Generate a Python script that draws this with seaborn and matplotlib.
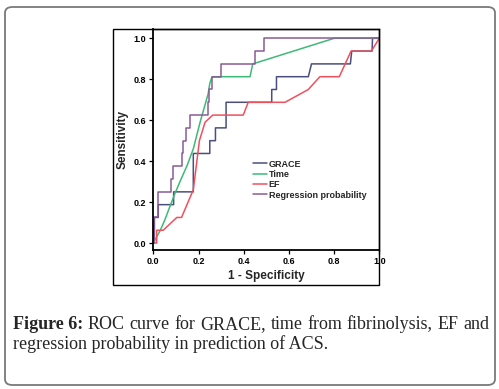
import matplotlib
matplotlib.use("Agg")
import matplotlib.pyplot as plt
import seaborn as sns
import pandas as pd
from matplotlib.patches import Rectangle, FancyBboxPatch

# ROC curve points (1 - specificity, sensitivity)
grace_fpr = [0.0, 0.005, 0.005, 0.022, 0.022, 0.09, 0.09, 0.177, 0.177, 0.25, 0.25, 0.275, 0.275,
             0.322, 0.322, 0.524, 0.524, 0.545, 0.545, 0.686, 0.70, 0.872, 0.878, 0.968, 0.97, 1.0]
grace_tpr = [0.0, 0.0, 0.125, 0.125, 0.1875, 0.1875, 0.25, 0.25, 0.4375, 0.4375, 0.5, 0.5, 0.5625,
             0.5625, 0.6875, 0.6875, 0.75, 0.75, 0.8125, 0.8125, 0.875, 0.875, 0.9375, 0.9375, 1.0, 1.0]

time_fpr = [0.0, 0.01, 0.03, 0.05, 0.074, 0.095, 0.118, 0.15, 0.177, 0.207, 0.225, 0.243, 0.25,
            0.26, 0.428, 0.44, 0.8, 1.0]
time_tpr = [0.0, 0.02, 0.06, 0.11, 0.18, 0.24, 0.30, 0.38, 0.46, 0.59, 0.66, 0.73, 0.78,
            0.8125, 0.8125, 0.875, 1.0, 1.0]

ef_fpr = [0.0, 0.015, 0.015, 0.044, 0.104, 0.125, 0.15, 0.177, 0.19, 0.204, 0.229, 0.263, 0.398,
          0.42, 0.583, 0.686, 0.737, 0.823, 0.875, 0.965, 1.0]
ef_tpr = [0.0, 0.0, 0.0625, 0.0625, 0.125, 0.125, 0.19, 0.26, 0.375, 0.5, 0.59, 0.625, 0.625,
          0.6875, 0.6875, 0.75, 0.8125, 0.8125, 0.9375, 0.9375, 1.0]

reg_fpr = [0.0, 0.005, 0.005, 0.022, 0.022, 0.078, 0.078, 0.085, 0.085, 0.125, 0.125, 0.133, 0.133,
           0.145, 0.145, 0.162, 0.162, 0.24, 0.24, 0.248, 0.248, 0.258, 0.258, 0.298, 0.298,
           0.448, 0.448, 0.49, 0.49, 1.0]
reg_tpr = [0.0, 0.0, 0.125, 0.125, 0.25, 0.25, 0.3125, 0.3125, 0.375, 0.375, 0.4375, 0.4375, 0.5,
           0.5, 0.5625, 0.5625, 0.625, 0.625, 0.6875, 0.6875, 0.75, 0.75, 0.8125, 0.8125, 0.875,
           0.875, 0.9375, 0.9375, 1.0, 1.0]

series = ["GRACE", "Time", "EF", "Regression probability"]
colors = ["#4a4f80", "#3dba75", "#f0505c", "#8c5a96"]

ticks = [0.0, 0.2, 0.4, 0.6, 0.8, 1.0]
tick_labels = ["0.0", "0.2", "0.4", "0.6", "0.8", "1.0"]

caption1 = ["Figure 6:", "ROC", "curve", "for", "GRACE,", "time", "from", "fibrinolysis,", "EF", "and"]
caption2 = "regression probability in prediction of ACS."

frames = []
for name, fx, ty in zip(series, [grace_fpr, time_fpr, ef_fpr, reg_fpr],
                        [grace_tpr, time_tpr, ef_tpr, reg_tpr]):
    frames.append(pd.DataFrame({"fpr": fx, "tpr": ty, "curve": name}))
df = pd.concat(frames, ignore_index=True)

sns.set_style("ticks")
plt.rcParams["font.family"] = ["Liberation Sans", "DejaVu Sans"]

W, H = 499, 389
fig = plt.figure(figsize=(W / 100, H / 100), dpi=100)

# outer rounded frame around figure + caption
fig.patches.append(FancyBboxPatch((5 / W, 1 - 385 / H), 490 / W, 378 / H,
                                  boxstyle="round,pad=0,rounding_size=0.015",
                                  transform=fig.transFigure, fill=False,
                                  edgecolor="#7a7a7a", linewidth=1.3))
# chart image frame
fig.patches.append(Rectangle((113.3 / W, 1 - 285 / H), 266 / W, 255.7 / H,
                             transform=fig.transFigure, fill=False,
                             edgecolor="black", linewidth=1.0))

ax = fig.add_axes([153.3 / W, 1 - 250 / H, 226 / W, 220.7 / H])
sns.lineplot(data=df, x="fpr", y="tpr", hue="curve", hue_order=series,
             palette=colors, sort=False, estimator=None, linewidth=1.1, ax=ax)

ax.set_xlim(0, 1)
ax.set_ylim(-0.034, 1.044)
ax.set_xticks(ticks)
ax.set_xticklabels(tick_labels)
ax.set_yticks(ticks)
ax.set_yticklabels(tick_labels)
ax.tick_params(length=3, width=0.9, pad=2, labelsize=6.5, colors="black")
for lab in ax.get_xticklabels() + ax.get_yticklabels():
    lab.set_fontweight("bold")
for s in ax.spines.values():
    s.set_visible(True)
    s.set_color("black")
    s.set_linewidth(1.0)
ax.spines["left"].set_linewidth(1.3)
ax.spines["bottom"].set_linewidth(1.3)

ax.set_xlabel("1 - Specificity", fontsize=8.5, fontweight="bold", labelpad=3)
ax.set_ylabel("Sensitivity", fontsize=8.5, fontweight="bold", labelpad=4)

ax.legend(title=None, frameon=False, loc="upper left", bbox_to_anchor=(0.441, 0.41),
          borderpad=0, borderaxespad=0, handlelength=1.5, handletextpad=0.25,
          labelspacing=0.15, prop={"weight": "bold", "size": 6.5})

# justified caption
serif = ["Liberation Serif", "DejaVu Serif"]
fig.canvas.draw()
renderer = fig.canvas.get_renderer()
left, right = 13, 489
texts = []
for i, w in enumerate(caption1):
    t = fig.text(0, 1 - 329 / H, w, family=serif, fontsize=13,
                 fontweight="bold" if i == 0 else "normal", va="baseline", ha="left")
    texts.append(t)
widths = [t.get_window_extent(renderer).width for t in texts]
gap = (right - left - sum(widths)) / (len(texts) - 1)
x = left
for t, wd in zip(texts, widths):
    t.set_x(x / W)
    x += wd + gap
fig.text(left / W, 1 - 349 / H, caption2, family=serif, fontsize=13,
         va="baseline", ha="left")

fig.savefig("out.png", dpi=100)
